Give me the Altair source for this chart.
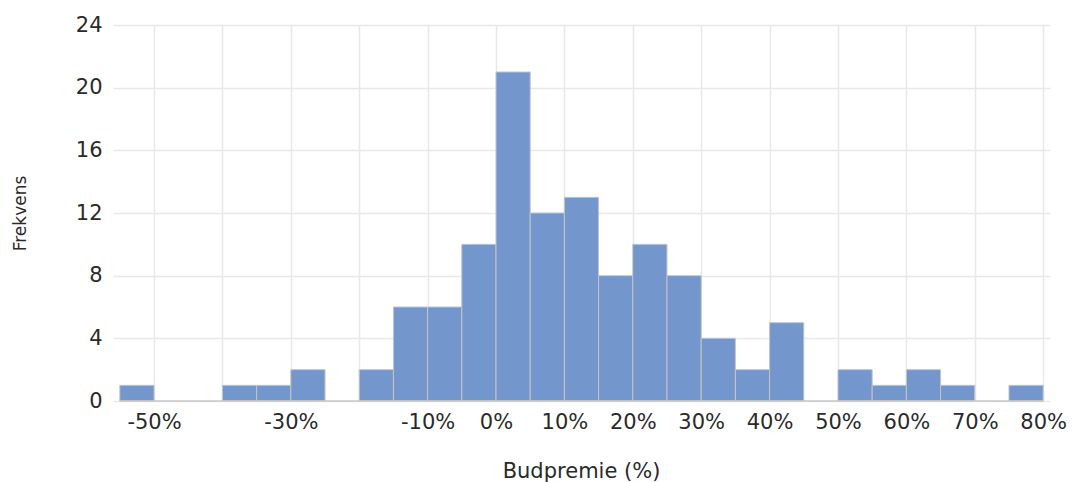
import altair as alt
import pandas as pd

# Histogram bins (5 % width) and counts
bin_start = [-55, -50, -45, -40, -35, -30, -25, -20, -15, -10, -5, 0, 5, 10,
             15, 20, 25, 30, 35, 40, 45, 50, 55, 60, 65, 70, 75]
bin_end = [-50, -45, -40, -35, -30, -25, -20, -15, -10, -5, 0, 5, 10, 15,
           20, 25, 30, 35, 40, 45, 50, 55, 60, 65, 70, 75, 80]
counts = [1, 0, 0, 1, 1, 2, 0, 2, 6, 6, 10, 21, 12, 13,
          8, 10, 8, 4, 2, 5, 0, 2, 1, 2, 1, 0, 1]

x_grid_values = [-50, -40, -30, -20, -10, 0, 10, 20, 30, 40, 50, 60, 70, 80]
x_label_values = [-50, -30, -10, 0, 10, 20, 30, 40, 50, 60, 70, 80]
y_tick_values = [0, 4, 8, 12, 16, 20, 24]

x_domain = [-56, 81]
y_domain = [0, 24]

df = pd.DataFrame({"start": bin_start, "end": bin_end, "count": counts})
df = df[df["count"] > 0]
df["zero"] = 0

base_df = pd.DataFrame({"x": [bin_start[0]], "x2": [bin_end[-1]], "y": [0]})

FONT = "DejaVu Sans"
label_list = "[" + ",".join(str(v) for v in x_label_values) + "]"

x_scale = alt.Scale(domain=x_domain, nice=False, zero=False)
y_scale = alt.Scale(domain=y_domain, nice=False)

bars = alt.Chart(df).mark_bar(
    color="#7396cc", stroke="#c4c4c4", strokeWidth=1
).encode(
    x=alt.X("start:Q", scale=x_scale,
            axis=alt.Axis(values=x_grid_values, title="Budpremie (%)",
                          labelExpr=f"indexof({label_list}, datum.value) >= 0 ? datum.value + '%' : ''",
                          labelOverlap=False, labelFlush=False,
                          ticks=False, domain=False, labelPadding=10,
                          labelFontSize=21, labelColor="#2a2a2a", labelFont=FONT,
                          titleFontSize=21, titleColor="#2a2a2a", titleFont=FONT,
                          titleFontWeight="normal",
                          titleX=468, titleY=70, titleBaseline="middle",
                          gridColor="#e8e8e8", gridWidth=1.5)),
    x2="end:Q",
    y=alt.Y("count:Q", scale=y_scale,
            axis=alt.Axis(values=y_tick_values, title="Frekvens",
                          ticks=False, domain=False, labelPadding=11,
                          labelFontSize=21, labelColor="#2a2a2a", labelFont=FONT,
                          titleFontSize=17, titleColor="#2a2a2a", titleFont=FONT,
                          titleFontWeight="normal", titleAngle=-90,
                          titleX=-93, titleY=188, titleAlign="center",
                          titleBaseline="middle",
                          gridColor="#e8e8e8", gridWidth=1.5)),
    y2="zero:Q",
)

baseline = alt.Chart(base_df).mark_rule(color="#c8c8c8", strokeWidth=1.5).encode(
    x=alt.X("x:Q", scale=x_scale),
    x2="x2:Q",
    y=alt.Y("y:Q", scale=y_scale),
)

chart = alt.layer(bars, baseline).properties(
    width=937, height=376,
    autosize=alt.AutoSizeParams(type="none"),
    padding={"left": 113, "top": 25, "right": 24, "bottom": 81},
    background="white",
).configure_view(stroke=None)

chart.save("out.html", embed_options={"renderer": "svg", "actions": False})
